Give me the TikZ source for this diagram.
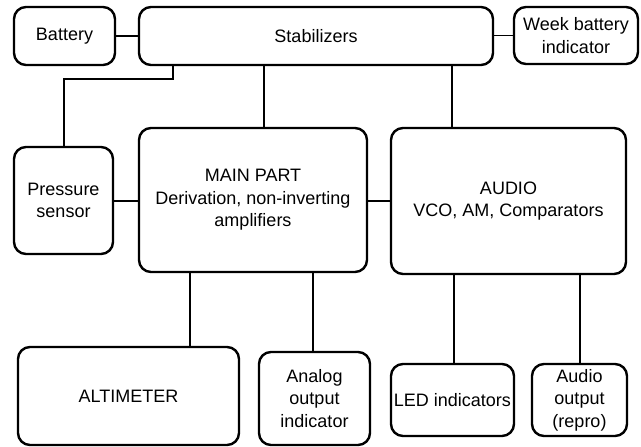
\documentclass[tikz,border=0pt]{standalone}
\usepackage{fontspec}
\setmainfont{Liberation Sans}
\begin{document}
\begin{tikzpicture}[x=1pt,y=-1pt,
  blk/.style={draw,line width=2.4pt,rounded corners=12pt,inner sep=0pt,align=center,
    font=\fontsize{18}{22.5}\selectfont},
  wire/.style={line width=1.1pt}]
\useasboundingbox (0,0) rectangle (641,447);
\node[blk,minimum width=101pt,minimum height=58pt] (bat) at (64.5,36) {Battery};
\node[blk,minimum width=354pt,minimum height=58pt] (stab) at (316,36) {Stabilizers};
\node[blk,minimum width=124pt,minimum height=57pt] (week) at (576,35.5) {Week battery\\indicator};
\node[blk,minimum width=99pt,minimum height=107pt] (pres) at (63.5,200.5) {Pressure\\sensor};
\node[blk,minimum width=228pt,minimum height=144pt] (main) at (253,200) {MAIN PART\\Derivation, non-inverting\\amplifiers};
\node[blk,minimum width=235pt,minimum height=146pt] (audio) at (508.5,201) {AUDIO\\VCO, AM, Comparators};
\node[blk,minimum width=221pt,minimum height=98pt] (alt) at (128.5,396) {ALTIMETER};
\node[blk,minimum width=111pt,minimum height=93pt] (ana) at (314.5,398.5) {Analog\\output\\indicator};
\node[blk,minimum width=123pt,minimum height=72pt] (led) at (452.5,400) {LED indicators};
\node[blk,minimum width=95pt,minimum height=72pt] (aout) at (579.5,400) {Audio\\output\\(repro)};
\coordinate (xp) at (173,0);
\coordinate (kp) at (64,79);
\coordinate (xm) at (264,0);
\coordinate (xa) at (452,0);
\coordinate (xb1) at (190,0);
\coordinate (xb2) at (313,0);
\coordinate (xb3) at (454,0);
\coordinate (xb4) at (580,0);
\draw[wire] (bat.east) -- (bat.east -| stab.west);
\draw[wire] (stab.east |- week.west) -- (week.west);
\draw[wire] (stab.south -| xp) -- (xp |- kp) -- (kp) -- (pres.north -| kp);
\draw[wire] (stab.south -| xm) -- (main.north -| xm);
\draw[wire] (stab.south -| xa) -- (audio.north -| xa);
\draw[wire] (pres.east |- 0,201) -- (main.west |- 0,201);
\draw[wire] (main.east |- 0,201) -- (audio.west |- 0,201);
\draw[wire] (main.south -| xb1) -- (alt.north -| xb1);
\draw[wire] (main.south -| xb2) -- (ana.north -| xb2);
\draw[wire] (audio.south -| xb3) -- (led.north -| xb3);
\draw[wire] (audio.south -| xb4) -- (aout.north -| xb4);
\end{tikzpicture}
\end{document}
